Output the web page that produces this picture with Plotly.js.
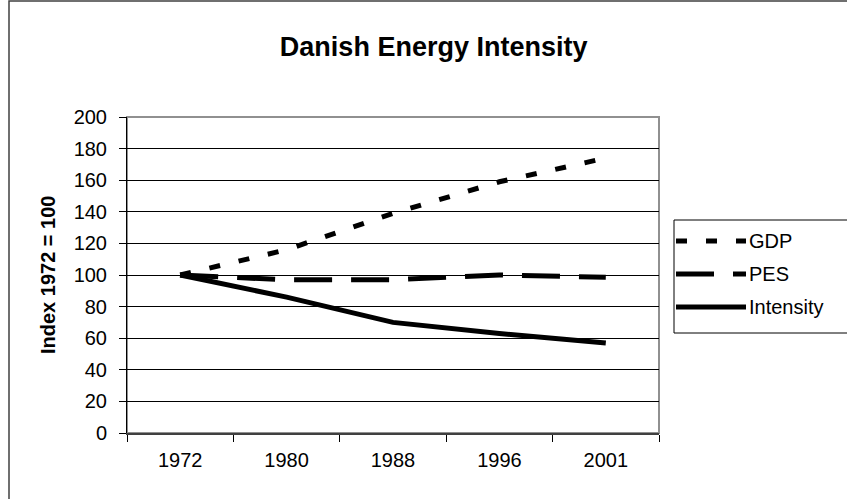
<!DOCTYPE html>
<html>
<head>
<meta charset="utf-8">
<script src="https://cdn.plot.ly/plotly-3.0.1.min.js"></script>
<style>
  html, body { margin: 0; padding: 0; background: #ffffff; }
  #chart { width: 847px; height: 499px; }
</style>
</head>
<body>
<div id="chart"></div>
<script>
// ---- Data ----
var years = ['1972', '1980', '1988', '1996', '2001'];
var gdp = [100, 116, 139, 159, 174];
var pes = [100, 97, 97, 100, 98.5];
var intensity = [100, 86, 70, 63, 57];
var seriesNames = ['GDP', 'PES', 'Intensity'];
var yTickVals = [0, 20, 40, 60, 80, 100, 120, 140, 160, 180, 200];

// ---- Styles ----
var FONT = 'Liberation Sans, Arial, sans-serif';
var styles = [
  { color: '#000000', width: 5, dash: '11px,19px' },
  { color: '#000000', width: 5, dash: '38px,19px' },
  { color: '#000000', width: 5, dash: 'solid' }
];
var values = [gdp, pes, intensity];

var W = 847, H = 499;
var M = { l: 127, r: 188, t: 117, b: 66 };
var PW = W - M.l - M.r, PH = H - M.t - M.b;
function px2x(px) { return (px - M.l) / PW; }
function px2y(py) { return (H - M.b - py) / PH; }

var traces = seriesNames.map(function (name, i) {
  return {
    type: 'scatter', mode: 'lines', name: name,
    x: years, y: values[i],
    line: { color: styles[i].color, width: styles[i].width, dash: styles[i].dash },
    showlegend: false, hoverinfo: 'x+y+name'
  };
});

var shapes = [
  // outer chart border
  { type: 'rect', xref: 'paper', yref: 'paper', x0: px2x(9), x1: px2x(900), y0: px2y(560), y1: px2y(1),
    line: { color: '#404040', width: 1.5 }, fillcolor: 'rgba(0,0,0,0)', layer: 'below' },
  // plot area border (gray)
  { type: 'rect', xref: 'paper', yref: 'paper', x0: 0, x1: 1, y0: 0, y1: 1,
    line: { color: '#909090', width: 2 }, fillcolor: 'rgba(0,0,0,0)', layer: 'below' },
  // legend box
  { type: 'rect', xref: 'paper', yref: 'paper', x0: px2x(674), x1: px2x(900), y0: px2y(333), y1: px2y(220),
    line: { color: '#000000', width: 1 }, fillcolor: '#ffffff', layer: 'above' }
];
var annotations = [
  { text: 'Index 1972 = 100', xref: 'paper', yref: 'paper', x: px2x(48), y: 0.5,
    xanchor: 'center', yanchor: 'middle', textangle: -90, showarrow: false,
    font: { family: FONT, size: 20, color: '#000000', weight: 'bold' } }
];
var legendY = [241, 274, 307];
seriesNames.forEach(function (name, i) {
  shapes.push({ type: 'line', xref: 'paper', yref: 'paper', x0: px2x(676), x1: px2x(746),
    y0: px2y(legendY[i]), y1: px2y(legendY[i]), layer: 'above',
    line: { color: styles[i].color, width: styles[i].width, dash: styles[i].dash } });
  annotations.push({ text: name, xref: 'paper', yref: 'paper', x: px2x(747), y: px2y(legendY[i]),
    xanchor: 'left', yanchor: 'middle', showarrow: false,
    font: { family: FONT, size: 20, color: '#000000' } });
});

var layout = {
  width: W, height: H,
  margin: M,
  paper_bgcolor: '#ffffff', plot_bgcolor: '#ffffff',
  showlegend: false,
  title: { text: 'Danish Energy Intensity', font: { family: FONT, size: 27, color: '#000000', weight: 'bold' },
    xref: 'container', x: 0.512, xanchor: 'center', yref: 'container', y: 1 - 47 / H, yanchor: 'middle' },
  xaxis: {
    type: 'category', range: [-0.5, 4.5],
    showline: true, linecolor: '#404040', linewidth: 2,
    ticks: 'outside', tickson: 'boundaries', ticklen: 7, tickcolor: '#000000', tickwidth: 1,
    tickfont: { family: FONT, size: 20, color: '#000000' },
    ticklabelstandoff: 8,
    showgrid: false, zeroline: false, fixedrange: true
  },
  yaxis: {
    range: [0, 200], tickvals: yTickVals,
    showline: true, linecolor: '#000000', linewidth: 1,
    ticks: 'outside', ticklen: 7, tickcolor: '#000000', tickwidth: 1,
    tickfont: { family: FONT, size: 20, color: '#000000' },
    ticklabelstandoff: 8,
    showgrid: true, gridcolor: '#000000', gridwidth: 1,
    zeroline: false, fixedrange: true
  },
  shapes: shapes,
  annotations: annotations
};

Plotly.newPlot('chart', traces, layout, { displayModeBar: false, staticPlot: true });
</script>
</body>
</html>
